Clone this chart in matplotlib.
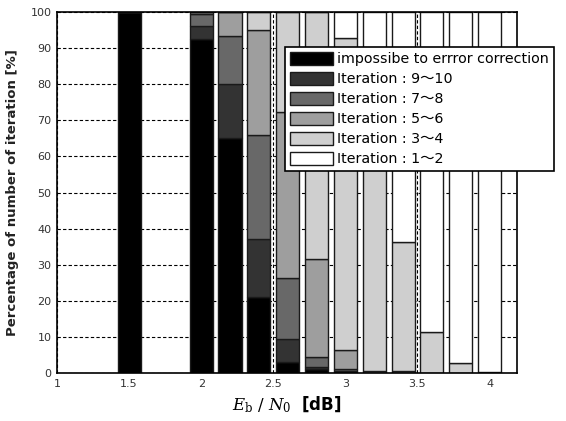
import matplotlib
matplotlib.use('Agg')
import matplotlib.pyplot as plt
import numpy as np

plt.rcParams['font.family'] = ['DejaVu Sans', 'Noto Sans CJK JP']
plt.rcParams['mathtext.fontset'] = 'custom'
plt.rcParams['mathtext.rm'] = 'DejaVu Serif'
plt.rcParams['mathtext.it'] = 'DejaVu Serif:italic'
plt.rcParams['mathtext.bf'] = 'DejaVu Sans:bold'

# Eb/N0 [dB] of each bar
ebn0 = [1.5, 2.0, 2.2, 2.4, 2.6, 2.8, 3.0, 3.2, 3.4, 3.6, 3.8, 4.0]

# percentage of frames per iteration class (bottom to top)
fail = [100, 92.5, 65, 21, 3.0, 1.0, 0.3, 0, 0, 0, 0, 0]
it9_10 = [0, 3.6, 15, 16, 6.4, 0.8, 0.2, 0, 0, 0, 0, 0]
it7_8 = [0, 3.3, 13.4, 29, 16.9, 2.6, 0.5, 0, 0, 0, 0, 0]
it5_6 = [0, 0.6, 6.6, 29, 46, 27.2, 5.4, 0.5, 0.5, 0, 0, 0]
it3_4 = [0, 0, 0, 5, 27.7, 68.4, 86.4, 70, 35.8, 11.4, 2.8, 0.3]
it1_2 = [0, 0, 0, 0, 0, 0, 7.2, 29.5, 63.7, 88.6, 97.2, 99.7]

labels = ['impossibe to errror correction',
          'Iteration : 9\u301c10',
          'Iteration : 7\u301c8',
          'Iteration : 5\u301c6',
          'Iteration : 3\u301c4',
          'Iteration : 1\u301c2']
colors = ['#000000', '#333333', '#686868', '#9e9e9e', '#cfcfcf', '#ffffff']

xticks = [1, 1.5, 2, 2.5, 3, 3.5, 4]
yticks = [0, 10, 20, 30, 40, 50, 60, 70, 80, 90, 100]

fig = plt.figure(figsize=(5.66, 4.21), dpi=100)
ax = fig.add_axes([0.1007, 0.114, 0.8127, 0.8575])

series = [fail, it9_10, it7_8, it5_6, it3_4, it1_2]
bottom = np.zeros(len(ebn0))
handles = []
for vals, col, lab in zip(series, colors, labels):
    b = ax.bar(ebn0, vals, width=0.16, bottom=bottom, color=col,
               edgecolor='#1a1a1a', linewidth=1.0, label=lab, zorder=2)
    handles.append(b)
    bottom += np.array(vals)

ax.set_xlim(1, 4.19)
ax.set_ylim(0, 100)
ax.set_xticks(xticks)
ax.set_xticklabels(['1', '1.5', '2', '2.5', '3', '3.5', '4'])
ax.set_yticks(yticks)
ax.tick_params(axis='both', labelsize=8, labelcolor='#333333', length=0, pad=4)
ax.set_axisbelow(True)
ax.grid(True, linestyle=(0, (3, 2)), color='black', linewidth=0.8)
for s in ax.spines.values():
    s.set_linewidth(1.2)

ax.set_ylabel('Percentage of number of iteration [%]', fontsize=9.5,
              fontweight='bold', color='#222222', labelpad=8)
ax.set_xlabel(r'$E_{\rm b}\ /\ N_{0}$  $\bf{[dB]}$', fontsize=12, labelpad=4)

leg = fig.legend(handles=handles, loc='upper left',
                 bbox_to_anchor=(285 / 566, 1 - 47 / 421),
                 fontsize=10.3, frameon=True, fancybox=False,
                 edgecolor='black', framealpha=1,
                 handlelength=3.0, handleheight=1.0, labelspacing=0.4,
                 handletextpad=0.3, borderpad=0.35, borderaxespad=0)
leg.get_frame().set_linewidth(1.2)

plt.savefig('out.png', dpi=100)
